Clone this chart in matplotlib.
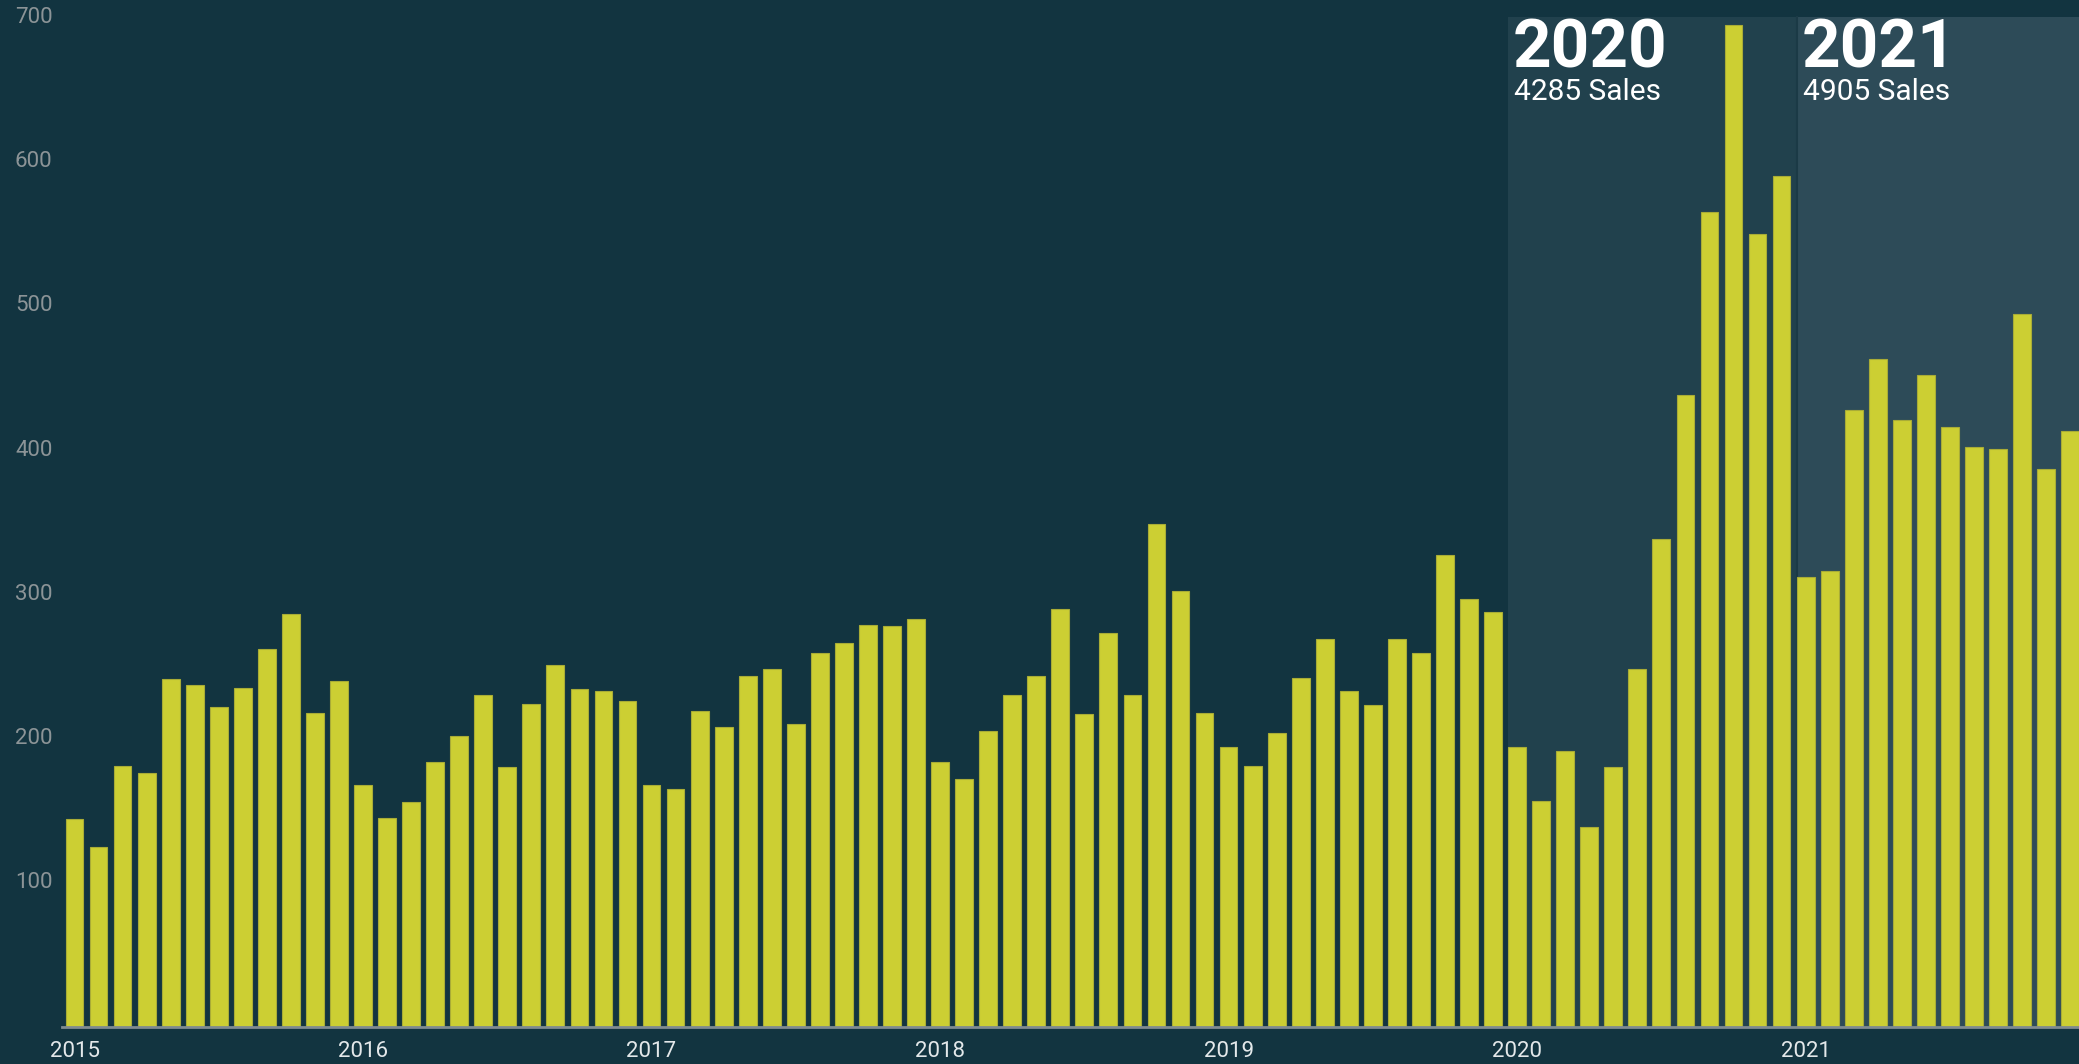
import numpy as np
import matplotlib.pyplot as plt
from matplotlib.transforms import blended_transform_factory

# Monthly sales, Jan 2015 - Dec 2021
years = [2015, 2016, 2017, 2018, 2019, 2020, 2021]
sales_2015 = [144, 125, 181, 176, 241, 237, 222, 235, 262, 286, 218, 240]
sales_2016 = [168, 145, 156, 184, 202, 230, 180, 224, 251, 234, 233, 226]
sales_2017 = [168, 165, 219, 208, 243, 248, 210, 259, 266, 279, 278, 283]
sales_2018 = [184, 172, 205, 230, 243, 290, 217, 273, 230, 349, 302, 218]
sales_2019 = [194, 181, 204, 242, 269, 233, 223, 269, 259, 327, 297, 288]
sales_2020 = [194, 157, 191, 139, 180, 248, 338, 438, 565, 695, 550, 590]
sales_2021 = [312, 316, 428, 463, 421, 452, 416, 402, 401, 494, 387, 413]

highlight_years = [2020, 2021]
highlight_labels = ["4285 Sales", "4905 Sales"]
y_ticks = [100, 200, 300, 400, 500, 600, 700]

sales = sales_2015 + sales_2016 + sales_2017 + sales_2018 + sales_2019 + sales_2020 + sales_2021
x = np.arange(len(sales))

bg = "#123440"
bar_color = "#cccf33"

plt.rcParams['font.family'] = ['Roboto', 'DejaVu Sans']

fig = plt.figure(figsize=(20.79, 10.64), dpi=100, facecolor=bg)
ax = fig.add_axes([62 / 2079, 1 - 1027 / 1064, 1 - 62 / 2079, 1027 / 1064])
ax.set_facecolor(bg)

# Shaded areas for the last two years
shade_colors = ["#21414d", "#2d4b58"]
for i, yr in enumerate(highlight_years):
    start = (yr - years[0]) * 12 - 0.37
    ax.axvspan(start, start + 12, ymin=0, ymax=700 / 712, color=shade_colors[i], lw=0, zorder=0)
    ax.text(start + 0.2, 700, str(yr), color="white", fontsize=48.5, fontweight="bold",
            va="top", ha="left", zorder=3)
    ax.text(start + 0.25, 658, highlight_labels[i], color="white", fontsize=21.5,
            va="top", ha="left", zorder=3)
ax.axvline((2021 - years[0]) * 12 - 0.37, ymax=700 / 712, color="#1b3a46", lw=1.5, zorder=0.5)

# Bars
ax.bar(x, sales, width=0.74, color=bar_color, edgecolor="#a9ac36", linewidth=0.8, zorder=2)

ax.set_xlim(-0.52, 83.37)
ax.set_ylim(0, 712)

# Axes styling
for s in ["top", "right", "left"]:
    ax.spines[s].set_visible(False)
ax.spines["bottom"].set_color("#7f8b90")
ax.spines["bottom"].set_linewidth(2)
ax.spines["bottom"].set_zorder(3)

ax.set_xticks([(y - years[0]) * 12 for y in years])
ax.set_xticklabels([str(y) for y in years], color="#e3e8ea", fontsize=16)
ax.tick_params(axis="x", length=0, pad=10)
ax.set_yticks([])

# y labels, left-aligned at the figure edge
trans = blended_transform_factory(fig.transFigure, ax.transData)
for v in y_ticks:
    ax.text(15 / 2079, v, str(v), transform=trans, color="#8c9497", fontsize=16,
            ha="left", va="center")

fig.savefig("out.png", dpi=100, facecolor=bg)
